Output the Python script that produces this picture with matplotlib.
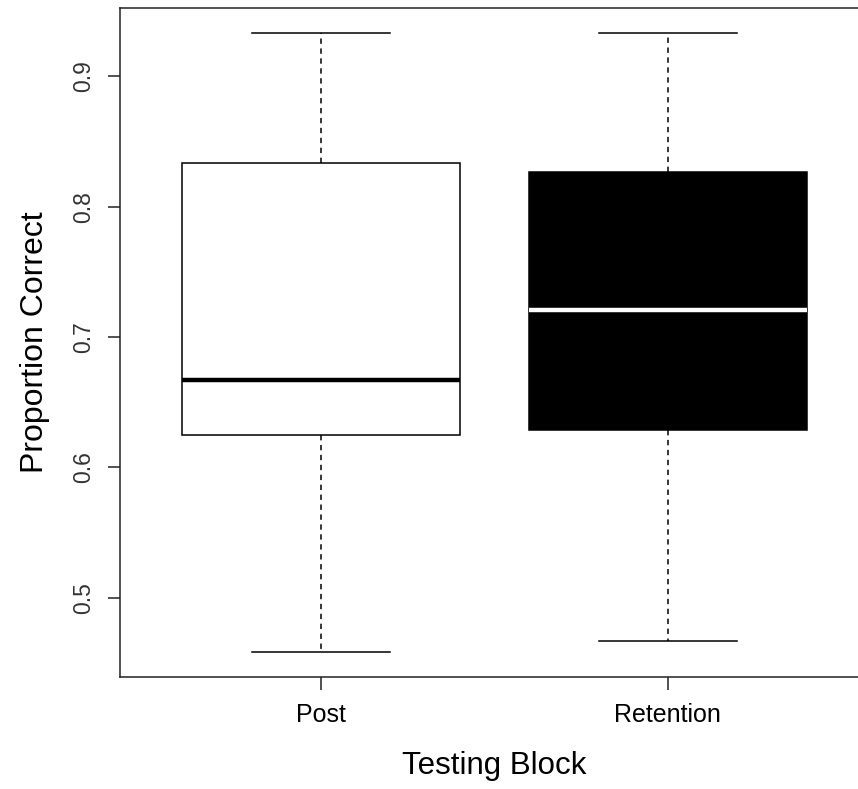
import matplotlib
matplotlib.use("Agg")
import matplotlib.pyplot as plt

plt.rcParams['font.family'] = ['Liberation Sans', 'DejaVu Sans']

# data
blocks = ["Post", "Retention"]
whisker_lo = [0.4583, 0.4667]
q1 = [0.625, 0.629]
medians = [0.6667, 0.7208]
q3 = [0.8333, 0.8263]
whisker_hi = [0.9333, 0.9333]
y_ticks = [0.5, 0.6, 0.7, 0.8, 0.9]

box_fill = ["white", "black"]
median_col = ["black", "white"]

stats = []
for i, name in enumerate(blocks):
    stats.append(dict(label=name, whislo=whisker_lo[i], q1=q1[i], med=medians[i],
                      q3=q3[i], whishi=whisker_hi[i], fliers=[]))

W, H = 858, 789
fig = plt.figure(figsize=(W / 100, H / 100), dpi=100)
# right edge of the plot lies outside the picture (cropped like the original)
ax = fig.add_axes([120 / W, 1 - 677 / H, (869 - 120) / W, (677 - 8) / H])

bp = ax.bxp(stats, positions=[1, 2], widths=0.8, capwidths=0.4, patch_artist=True,
            boxprops=dict(edgecolor="black", linewidth=1.1),
            whiskerprops=dict(color="black", linewidth=1.1, linestyle=(0, (3.5, 3))),
            capprops=dict(color="black", linewidth=1.1),
            medianprops=dict(linewidth=3.2, solid_capstyle="butt"))

for patch, fc in zip(bp["boxes"], box_fill):
    patch.set_facecolor(fc)
for med, mc in zip(bp["medians"], median_col):
    med.set_color(mc)
    med.set_zorder(5)

ax.set_xlim(0.42, 2.58)
ax.set_ylim(0.4393, 0.9523)
ax.set_yticks(y_ticks)
ax.set_yticklabels([f"{v:.1f}" for v in y_ticks], rotation=90, va="center")
ax.set_xticks([1, 2])
ax.set_xticklabels(blocks)

for sp in ax.spines.values():
    sp.set_linewidth(1.1)
    sp.set_color("#222222")
ax.tick_params(axis="both", length=9, width=1.1, color="#222222")
ax.tick_params(axis="x", pad=10, labelsize=18)
ax.tick_params(axis="y", pad=9, labelsize=16.5, labelcolor="#333333")

ax.set_xlabel("Testing Block", fontsize=22.5, labelpad=17)
ax.set_ylabel("Proportion Correct", fontsize=23, labelpad=16)

fig.savefig("out.png", dpi=100)
